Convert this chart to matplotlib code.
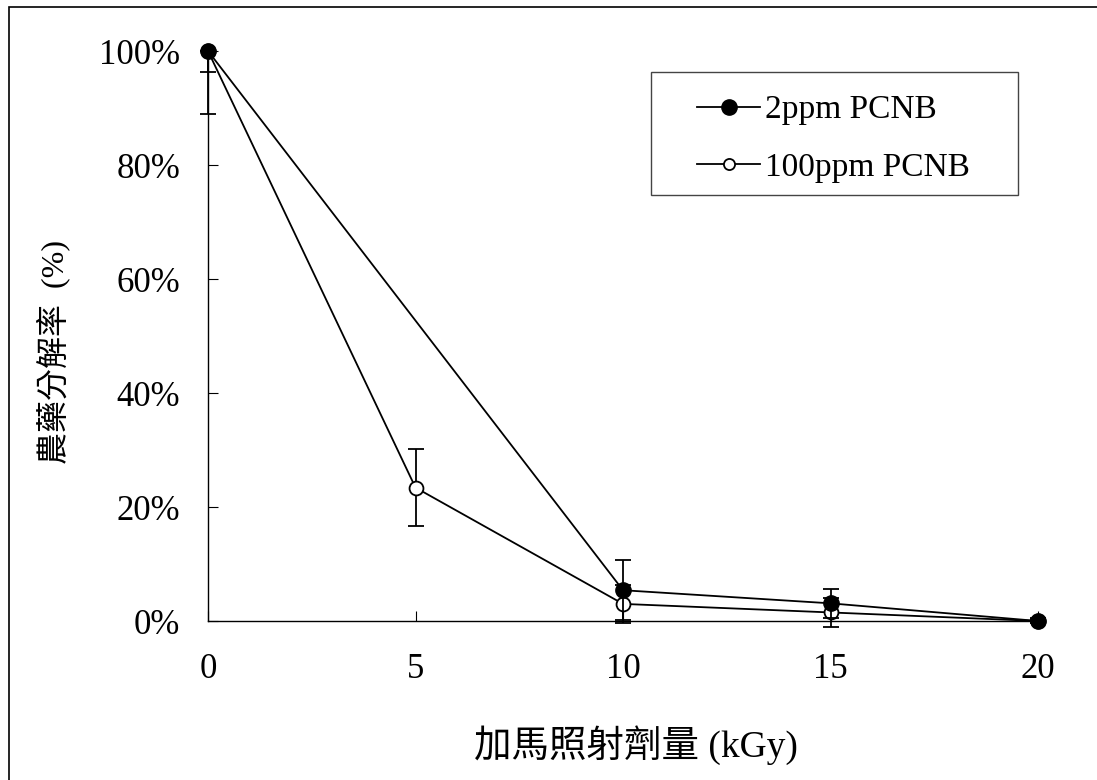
import matplotlib.pyplot as plt
from matplotlib.lines import Line2D
from matplotlib.patches import Rectangle
from matplotlib.ticker import FuncFormatter

plt.rcParams['font.family'] = ['Liberation Serif', 'Noto Sans CJK TC']

# 劑量 (kGy) 與分解率 (%)
dose_2ppm = [0, 10, 15, 20]
rate_2ppm = [100, 5.4, 3.1, 0]
err_2ppm_low = [3.7, 5.3, 2.6, 0.3]
err_2ppm_high = [0, 5.3, 2.6, 0.5]

dose_100ppm = [0, 5, 10, 15, 20]
rate_100ppm = [100, 23.4, 3.0, 1.5, 0]
err_100ppm_low = [11.0, 6.7, 3.3, 2.5, 0.3]
err_100ppm_high = [0, 6.7, 3.3, 2.5, 0.3]

x_ticks = [0, 5, 10, 15, 20]
y_ticks = [0, 20, 40, 60, 80, 100]

fig = plt.figure(figsize=(10.97, 7.80), dpi=100)
ax = fig.add_axes([208 / 1097, 1 - 621 / 780, 830 / 1097, 570 / 780])

ax.errorbar(dose_100ppm, rate_100ppm, yerr=[err_100ppm_low, err_100ppm_high],
            color='black', lw=1.3, marker='o', ms=10, mfc='white', mec='black', mew=1.3,
            ecolor='black', elinewidth=1.3, capsize=6, capthick=1.3,
            clip_on=False, zorder=3)
ax.errorbar(dose_2ppm, rate_2ppm, yerr=[err_2ppm_low, err_2ppm_high],
            color='black', lw=1.3, marker='o', ms=11, mfc='black', mec='black',
            ecolor='black', elinewidth=1.3, capsize=6, capthick=1.3,
            clip_on=False, zorder=4)

ax.set_xlim(0, 20)
ax.set_ylim(0, 100)
ax.set_xticks(x_ticks)
ax.set_yticks(y_ticks)
ax.yaxis.set_major_formatter(FuncFormatter(lambda v, p: f'{v:.0f}%'))
ax.tick_params(axis='both', direction='in', length=7, width=0.8, labelsize=25, colors='black')
ax.tick_params(axis='y', pad=20)
ax.tick_params(axis='x', pad=23)
for s in ['top', 'right']:
    ax.spines[s].set_visible(False)
for s in ['left', 'bottom']:
    ax.spines[s].set_linewidth(1.0)

ax.set_xlabel('加馬照射劑量 (kGy)', fontsize=27)
ax.xaxis.set_label_coords(0.515, -0.183)
ax.set_ylabel('農藥分解率  (%)', fontsize=23)
ax.yaxis.set_label_coords(-0.166, 0.472)

# 圖例
ax.add_patch(Rectangle((0.534, 0.747), 0.442, 0.216, transform=ax.transAxes,
                       fill=False, edgecolor='#444444', lw=1.0, zorder=5))
handles = [
    Line2D([], [], color='black', lw=1.3, marker='o', ms=11, mfc='black', mec='black'),
    Line2D([], [], color='black', lw=1.3, marker='o', ms=8, mfc='white', mec='black', mew=1.3),
]
ax.legend(handles, ['2ppm PCNB', '100ppm PCNB'],
          loc='upper left', bbox_to_anchor=(0.589, 0.923), borderaxespad=0,
          borderpad=0, fontsize=24, frameon=False, handlelength=1.9,
          labelspacing=0.8, handletextpad=0.15)

# 外框
fig.patches.append(Rectangle((9 / 1097, -0.05), 1.2, 1.05 - 7 / 780,
                             transform=fig.transFigure, fill=False,
                             edgecolor='black', lw=1.2))

fig.savefig('out.png', dpi=100)
